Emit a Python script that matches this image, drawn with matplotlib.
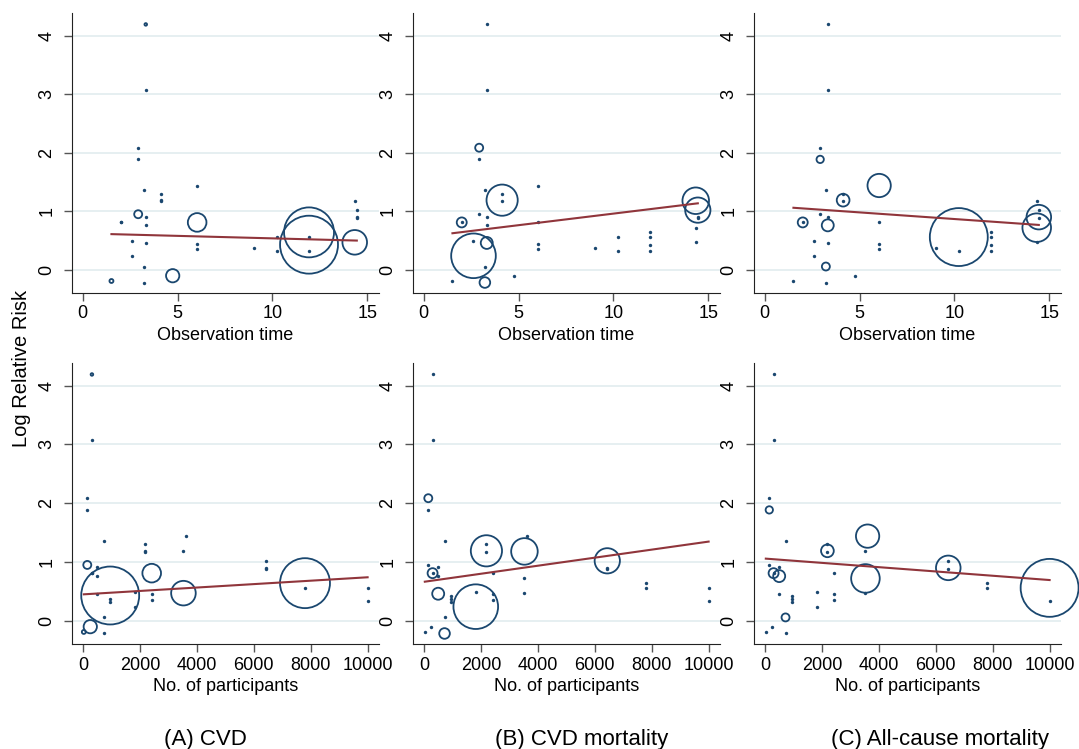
import numpy as np
import matplotlib
matplotlib.use("Agg")
import matplotlib.pyplot as plt

plt.rcParams['font.family'] = ['Liberation Sans', 'DejaVu Sans']

# study level data, one entry per estimate
obs_time = [3.32, 3.32, 2.92, 2.92, 3.22, 4.13, 4.13, 4.13, 6.03, 2.92,
            3.32, 2.0, 2.0, 3.32, 6.03, 2.62, 3.32, 2.62, 3.22, 3.22,
            1.51, 4.74, 6.03, 6.03, 9.03, 10.23, 10.23, 11.93, 11.93, 11.93,
            11.93, 14.34, 14.45, 14.45, 14.45, 14.34, 14.34]
participants = [315, 315, 152, 152, 723, 2194, 2194, 2194, 3606, 152,
                500, 303, 303, 500, 2415, 1820, 500, 1820, 723, 723,
                30, 257, 2415, 2415, 957, 10000, 10000, 7800, 7800, 957,
                957, 3530, 6440, 6440, 6440, 3530, 3530]
log_rr = [4.19, 3.07, 2.085, 1.886, 1.36, 1.30, 1.19, 1.17, 1.44, 0.95,
          0.91, 0.81, 0.81, 0.76, 0.81, 0.49, 0.46, 0.24, 0.057, -0.216,
          -0.19, -0.10, 0.45, 0.36, 0.375, 0.56, 0.33, 0.64, 0.56, 0.43,
          0.32, 1.18, 1.02, 0.90, 0.88, 0.72, 0.47]
nan = np.nan
# weights (%) per outcome, 0 = not weighted (dot), nan = not shown
w_cvd = [0.06, 0, 0, 0, 0, 0, 0, 0, 0, 0.57,
         0, 0, 0, 0, 3.1, 0, 0, 0, 0, 0,
         0.14, 1.58, 0, 0, 0, 0, 0, 22.3, 0, 30,
         0, 0, 0, 0, 0, nan, 5.4]
w_cvd_mort = [0, 0, 0.57, 0, 0, 0, 8.7, 0, 0, 0,
              0, 0.89, 0, 0, 0, 0, 1.28, 17.8, 0, 1.01,
              0, 0, 0, 0, 0, 0, 0, 0, 0, 0,
              0, 6.3, 5.7, 0, 0, 0, 0]
w_allcause = [0, 0, 0, 0.48, 0, 0, 1.45, 0, 4.85, 0,
              0, 0.89, 0, 1.28, 0, 0, 0, 0, 0.57, 0,
              0, 0, 0, 0, 0, 30, 0, 0, 0, 0,
              0, 0, 0, 5.4, 0, 7.3, 0]

# fitted meta-regression lines (value at smallest and largest x)
fit_time_start = [0.61, 0.625, 1.06]
fit_time_end = [0.50, 1.136, 0.767]
fit_n_start = [0.45, 0.665, 1.057]
fit_n_end = [0.74, 1.347, 0.693]

captions = ["(A) CVD", "(B) CVD mortality", "(C) All-cause mortality"]
weights = [w_cvd, w_cvd_mort, w_allcause]

navy = '#1a476f'
maroon = '#90353b'
gridc = '#e4eef0'

fig = plt.figure(figsize=(10.79, 7.49), dpi=100)
W, H = 1079, 749
lefts = [72, 413, 754]
caption_x = [205, 582, 940]
width = 307

t = np.array(obs_time)
n = np.array(participants)
y = np.array(log_rr)


def draw(ax, x, w, y0, y1, xlim, xticks):
    w = np.array(w, dtype=float)
    shown = ~np.isnan(w)
    dots = shown & (w == 0)
    circ = shown & (w > 0)
    ax.scatter(x[dots], y[dots], s=6, color=navy, linewidths=0, zorder=3, clip_on=False)
    ax.scatter(x[circ], y[circ], s=58 * w[circ], facecolors='none', edgecolors=navy,
               linewidths=1.3, zorder=3, clip_on=False)
    xs = [x.min(), x.max()]
    ax.plot(xs, [y0, y1], color=maroon, lw=1.5, zorder=4)
    ax.set_xlim(*xlim)
    ax.set_ylim(-0.395, 4.385)
    ax.set_yticks([0, 1, 2, 3, 4])
    ax.set_xticks(xticks)
    for g in [0, 1, 2, 3, 4]:
        ax.axhline(g, color=gridc, lw=1.3, zorder=1)
    for s in ['top', 'right']:
        ax.spines[s].set_visible(False)
    ax.spines['left'].set_color('#222222')
    ax.spines['bottom'].set_color('#222222')
    ax.tick_params(axis='y', length=6, width=1, color='#555555', labelsize=13,
                   labelrotation=90, pad=6)
    ax.tick_params(axis='x', length=6, width=1, color='#555555', labelsize=13, pad=3)
    for lab in ax.get_yticklabels():
        lab.set_va('center')


for i in range(3):
    ax = fig.add_axes([lefts[i] / W, 1 - 293 / H, width / W, 280 / H])
    draw(ax, t, weights[i], fit_time_start[i], fit_time_end[i], (-0.57, 15.62), [0, 5, 10, 15])
    ax.set_xlabel("Observation time", fontsize=13, labelpad=3)

    ax2 = fig.add_axes([lefts[i] / W, 1 - 644 / H, width / W, 281 / H])
    draw(ax2, n, weights[i], fit_n_start[i], fit_n_end[i], (-385, 10400),
         [0, 2000, 4000, 6000, 8000, 10000])
    ax2.set_xlabel("No. of participants", fontsize=13, labelpad=3)

    fig.text(caption_x[i] / W, 1 - 739 / H, captions[i], ha='center', va='center',
             fontsize=16)

fig.text(22 / W, 1 - 368 / H, "Log Relative Risk", rotation=90, ha='center', va='center',
         fontsize=14.5)

fig.savefig("out.png", dpi=100)
